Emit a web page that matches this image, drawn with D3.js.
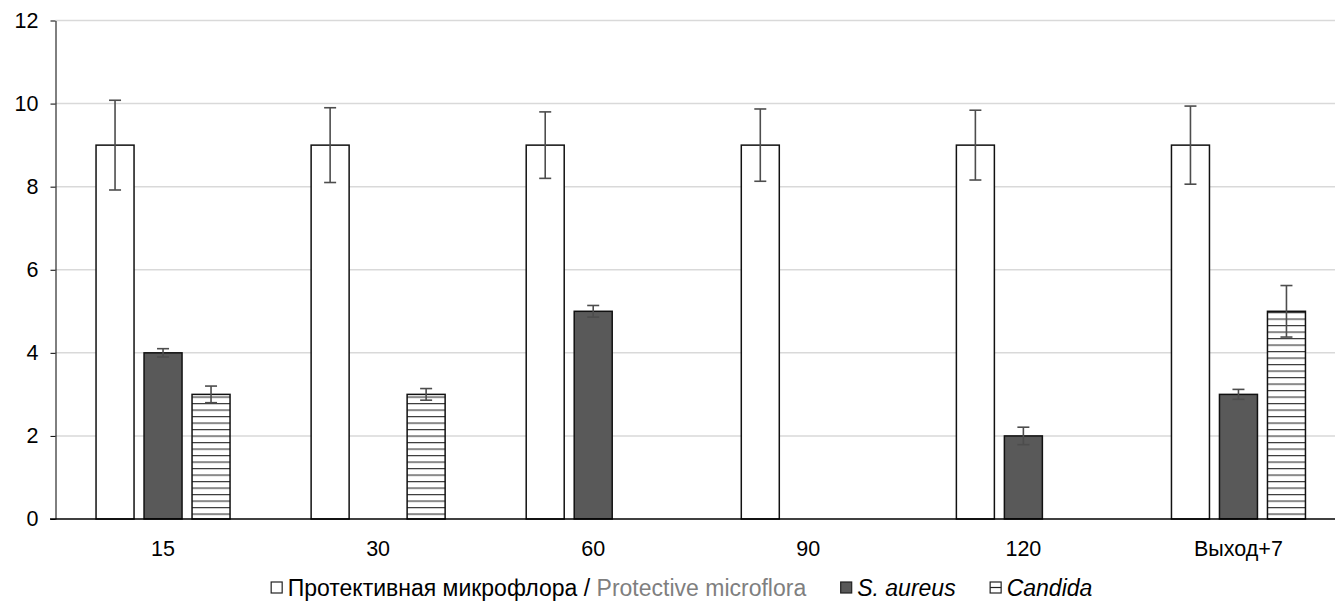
<!DOCTYPE html>
<html>
<head>
<meta charset="utf-8">
<script src="https://cdn.jsdelivr.net/npm/d3@7"></script>
<style>
  body { margin: 0; background: #fff; }
  svg { display: block; font-family: "Liberation Sans", Arial, sans-serif; }
</style>
</head>
<body>
<div id="chart"></div>
<script>
const categories = ["15", "30", "60", "90", "120", "Выход+7"];
const series = ["protective", "aureus", "candida"];
const protective = [9, 9, 9, 9, 9, 9];
const protectiveErr = [1.08, 0.9, 0.8, 0.87, 0.84, 0.94];
const aureus = [4, null, 5, null, 2, 3];
const aureusErr = [0.1, null, 0.14, null, 0.21, 0.12];
const candida = [3, 3, null, null, null, 5];
const candidaErr = [0.2, 0.14, null, null, null, 0.62];
const yTicks = [0, 2, 4, 6, 8, 10, 12];

const W = 1335, H = 601;
const LEFT = 55.5, BOTTOM = 519, TOP = 20.5, RIGHT = 1346;

const svg = d3.select("#chart").append("svg")
    .attr("width", W)
    .attr("height", H);

// hatch for Candida
const defs = svg.append("defs");
const pat = defs.append("pattern")
    .attr("id", "hatch")
    .attr("patternUnits", "userSpaceOnUse")
    .attr("width", 8)
    .attr("height", 6.5);
pat.append("rect").attr("width", 8).attr("height", 6.5).attr("fill", "#fff");
pat.append("line")
    .attr("x1", 0).attr("x2", 8)
    .attr("y1", 0.6).attr("y2", 0.6)
    .attr("stroke", "#3a3a3a")
    .attr("stroke-width", 1.2);

const y = d3.scaleLinear()
    .domain([0, 12])
    .range([BOTTOM, TOP]);

const x = d3.scaleBand()
    .domain(categories)
    .range([LEFT, RIGHT]);

// bars inside each group: 38px wide, 48px step
const xSub = d3.scaleBand()
    .domain(series)
    .range([0, 134])
    .paddingInner(10 / 48);

// gridlines
svg.append("g")
  .selectAll("line")
  .data(yTicks.filter(d => d > 0))
  .enter().append("line")
    .attr("x1", LEFT)
    .attr("x2", W)
    .attr("y1", d => y(d))
    .attr("y2", d => y(d))
    .attr("stroke", "#d9d9d9")
    .attr("stroke-width", 1.5);

// y axis
const yAxis = svg.append("g")
    .attr("transform", `translate(${LEFT},0)`)
    .call(d3.axisLeft(y).tickValues(yTicks).tickSize(5).tickPadding(12).tickSizeOuter(0));
yAxis.select(".domain").attr("stroke", "#000");
yAxis.selectAll(".tick line").attr("stroke", "#000");
yAxis.selectAll("text")
    .attr("fill", "#000")
    .style("font-size", "21.5px")
    .style("font-family", "'Liberation Sans', Arial, sans-serif");

const rows = categories.map((c, i) => ({
  cat: c,
  vals: [
    { key: "protective", v: protective[i], e: protectiveErr[i] },
    { key: "aureus", v: aureus[i], e: aureusErr[i] },
    { key: "candida", v: candida[i], e: candidaErr[i] }
  ].filter(d => d.v != null)
}));

const fills = { protective: "#fff", aureus: "#595959", candida: "url(#hatch)" };

const groups = svg.append("g")
  .selectAll("g")
  .data(rows)
  .enter().append("g")
    .attr("transform", d => `translate(${x(d.cat) + x.bandwidth() / 2 - 67},0)`);

groups.selectAll("rect")
  .data(d => d.vals)
  .enter().append("rect")
    .attr("x", d => xSub(d.key))
    .attr("y", d => y(d.v))
    .attr("width", xSub.bandwidth())
    .attr("height", d => BOTTOM - y(d.v))
    .attr("fill", d => fills[d.key])
    .attr("stroke", "#111")
    .attr("stroke-width", 1.5);

// error bars
const err = groups.selectAll("g.err")
  .data(d => d.vals)
  .enter().append("g")
    .attr("class", "err")
    .attr("stroke", "#4d4d4d")
    .attr("stroke-width", 1.6);
err.append("line")
    .attr("x1", d => xSub(d.key) + xSub.bandwidth() / 2)
    .attr("x2", d => xSub(d.key) + xSub.bandwidth() / 2)
    .attr("y1", d => y(d.v + d.e))
    .attr("y2", d => y(d.v - d.e));
err.append("line")
    .attr("x1", d => xSub(d.key) + xSub.bandwidth() / 2 - 6)
    .attr("x2", d => xSub(d.key) + xSub.bandwidth() / 2 + 6)
    .attr("y1", d => y(d.v + d.e))
    .attr("y2", d => y(d.v + d.e));
err.append("line")
    .attr("x1", d => xSub(d.key) + xSub.bandwidth() / 2 - 6)
    .attr("x2", d => xSub(d.key) + xSub.bandwidth() / 2 + 6)
    .attr("y1", d => y(d.v - d.e))
    .attr("y2", d => y(d.v - d.e));

// x axis
svg.append("line")
    .attr("x1", 50)
    .attr("x2", W)
    .attr("y1", BOTTOM)
    .attr("y2", BOTTOM)
    .attr("stroke", "#000")
    .attr("stroke-width", 1.5);

svg.append("g")
  .selectAll("text")
  .data(categories)
  .enter().append("text")
    .attr("x", d => x(d) + x.bandwidth() / 2)
    .attr("y", 556)
    .attr("text-anchor", "middle")
    .style("font-size", "21.5px")
    .text(d => d);

// legend
const legend = svg.append("g");
const items = [
  { key: "protective", parts: [["Протективная микрофлора / ", "#000", "normal"], ["Protective microflora", "#7f7f7f", "normal"]] },
  { key: "aureus", parts: [["S. aureus", "#000", "italic"]] },
  { key: "candida", parts: [["Candida", "#000", "italic"]] }
];
let cx = 0;
items.forEach(it => {
  const g = legend.append("g");
  g.append("rect")
      .attr("x", 0.5).attr("y", -13.5)
      .attr("width", 11).attr("height", 11)
      .attr("fill", it.key === "aureus" ? "#595959" : "#fff")
      .attr("stroke", "#222").attr("stroke-width", 1.2);
  if (it.key === "candida") {
    g.append("line")
        .attr("x1", 0.5).attr("x2", 11.5)
        .attr("y1", -8).attr("y2", -8)
        .attr("stroke", "#222").attr("stroke-width", 1.2);
  }
  const t = g.append("text")
      .attr("x", 17)
      .style("font-size", "23px");
  it.parts.forEach(p => {
    t.append("tspan").attr("fill", p[1]).style("font-style", p[2]).text(p[0]);
  });
  const w = 17 + t.node().getComputedTextLength();
  g.attr("transform", `translate(${cx},0)`);
  cx += w + 34;
});
const total = cx - 34;
legend.attr("transform", `translate(${681.5 - total / 2},595.5)`);
</script>
</body>
</html>
